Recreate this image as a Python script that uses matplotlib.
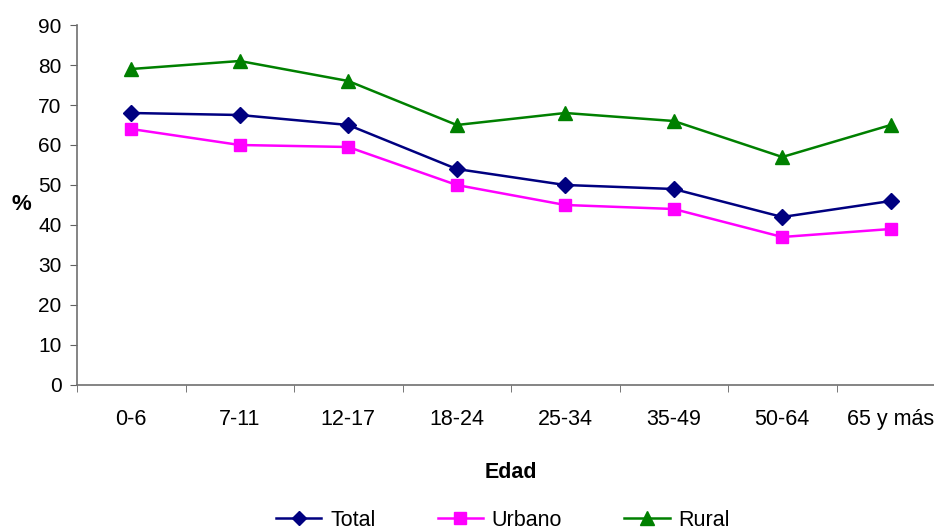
import matplotlib.pyplot as plt
import numpy as np

plt.rcParams['font.family'] = ['Liberation Sans', 'DejaVu Sans']

edades = ["0-6", "7-11", "12-17", "18-24", "25-34", "35-49", "50-64", "65 y más"]
total = [68, 67.5, 65, 54, 50, 49, 42, 46]
urbano = [64, 60, 59.5, 50, 45, 44, 37, 39]
rural = [79, 81, 76, 65, 68, 66, 57, 65]

fig = plt.figure(figsize=(9.34, 5.32), dpi=100)
# el eje derecho queda fuera del lienzo, como en el original
ax = fig.add_axes([77 / 934, 147 / 532, 868 / 934, 360 / 532])

x = np.arange(len(edades))
ax.plot(x, total, color='#000080', lw=1.8, marker='D', ms=8, label='Total')
ax.plot(x, urbano, color='#FF00FF', lw=1.8, marker='s', ms=8.5, label='Urbano')
ax.plot(x, rural, color='#008000', lw=1.8, marker='^', ms=10, label='Rural')

ax.set_xlim(-0.5, len(edades) - 0.5)
ax.set_ylim(0, 90)
ax.set_yticks(range(0, 91, 10))

# marcas entre categorías, etiquetas centradas
ax.set_xticks(x)
ax.set_xticklabels(edades, fontsize=15.5)
ax.set_xticks(np.arange(-0.5, len(edades), 1), minor=True)
ax.tick_params(axis='x', which='major', length=0, pad=17)
ax.tick_params(axis='x', which='minor', length=5, direction='out', color='#606060')
ax.tick_params(axis='y', length=5, direction='out', color='#606060', labelsize=15, pad=6)

for s in ['top', 'right']:
    ax.spines[s].set_visible(False)
for s in ['left', 'bottom']:
    ax.spines[s].set_color('#707070')
    ax.spines[s].set_linewidth(1.2)

ax.set_xlabel('Edad', fontsize=15.5, fontweight='bold')
ax.xaxis.set_label_coords(0.5, (385 - 462) / 360)
ax.set_ylabel('%', fontsize=16, fontweight='bold', rotation=0, va='center', ha='center')
ax.yaxis.set_label_coords((21 - 77) / 868, 0.5)

fig.legend(loc='center', bbox_to_anchor=(503 / 934, 1 - 520 / 532), ncol=3,
           frameon=False, fontsize=15.5, handlelength=2.1, handletextpad=0.4,
           columnspacing=2.9, markerscale=0.95)

fig.savefig('out.png', dpi=100)
